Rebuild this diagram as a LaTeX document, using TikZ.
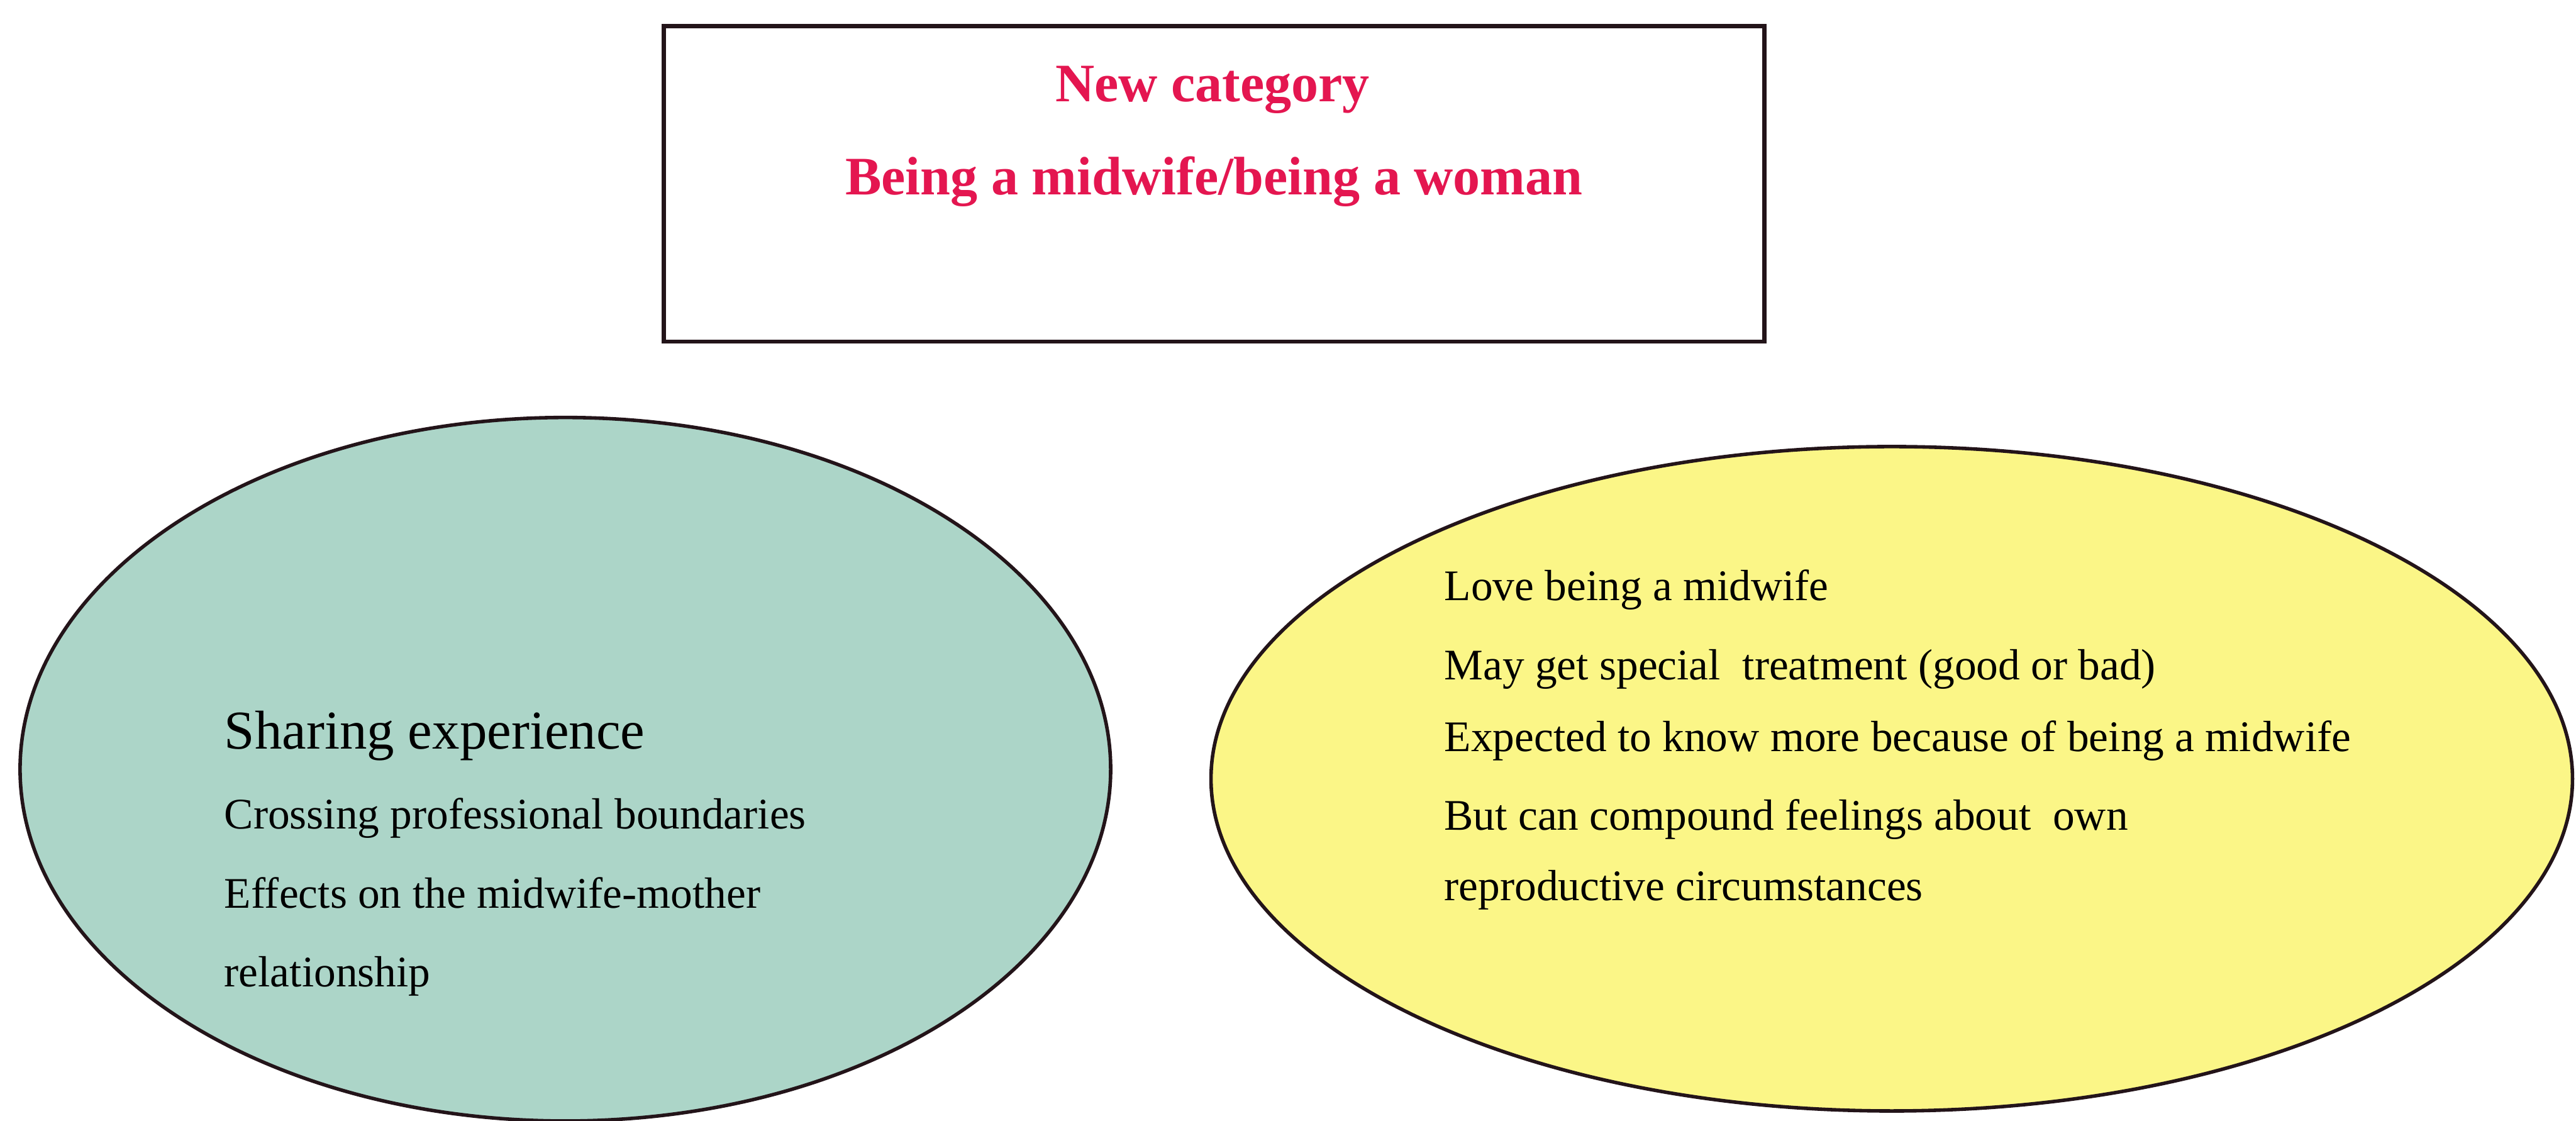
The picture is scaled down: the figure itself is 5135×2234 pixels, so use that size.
\documentclass[tikz,border=0pt]{standalone}
\usepackage{fontspec}
\setmainfont{Liberation Serif}
\usetikzlibrary{shapes.geometric}
\definecolor{titlered}{RGB}{228,22,80}
\definecolor{tealfill}{RGB}{172,213,200}
\definecolor{yellowfill}{RGB}{251,246,135}
\definecolor{inkline}{RGB}{35,20,25}
\tikzset{
  blob/.style={ellipse, draw=inkline, line width=7pt, inner sep=0pt},
  catbox/.style={rectangle, draw=inkline, line width=8pt, fill=white, inner sep=0pt},
  redtxt/.style={anchor=base, inner sep=0pt, text=titlered, font=\fontsize{108}{120}\selectfont\bfseries},
  bodytxt/.style={anchor=base west, inner sep=0pt, text=black, font=\fontsize{87}{100}\selectfont},
  headtxt/.style={anchor=base west, inner sep=0pt, text=black, font=\fontsize{109}{120}\selectfont}
}
\begin{document}
\begin{tikzpicture}[x=1pt,y=-1pt]
\useasboundingbox (0,0) rectangle (5135,2234);
\fill[white] (0,0) rectangle (5135,2234);
\begin{scope}
\clip (0,0) rectangle (5135,2234);
% category box
\node[catbox, minimum width=2194pt, minimum height=629pt] (box) at (2420,366.5) {};
\node[redtxt] (t1) at (2417,202) {New category};
\node[redtxt] (t2) at (2420,388) {Being a midwife/being a woman};
% left ellipse
\node[blob, fill=tealfill, minimum width=2174pt, minimum height=1402pt] (left) at (1127,1533) {};
\node[headtxt] (l1) at (447,1492) {Sharing experience};
\node[bodytxt] (l2) at (447,1652) {Crossing professional boundaries};
\node[bodytxt] (l3) at (447,1810) {Effects on the midwife-mother};
\node[bodytxt] (l4) at (447,1966) {relationship};
% right ellipse
\node[blob, fill=yellowfill, minimum width=2714pt, minimum height=1324pt] (right) at (3771,1552) {};
\node[bodytxt] (r1) at (2879,1197) {Love being a midwife};
\node[bodytxt] (r2) at (2879,1355) {May get special\ \ treatment (good or bad)};
\node[bodytxt] (r3) at (2879,1498) {Expected to know more because of being a midwife};
\node[bodytxt] (r4) at (2879,1654) {But can compound feelings about\ \ own};
\node[bodytxt] (r5) at (2879,1794) {reproductive circumstances};
\end{scope}
\end{tikzpicture}
\end{document}
